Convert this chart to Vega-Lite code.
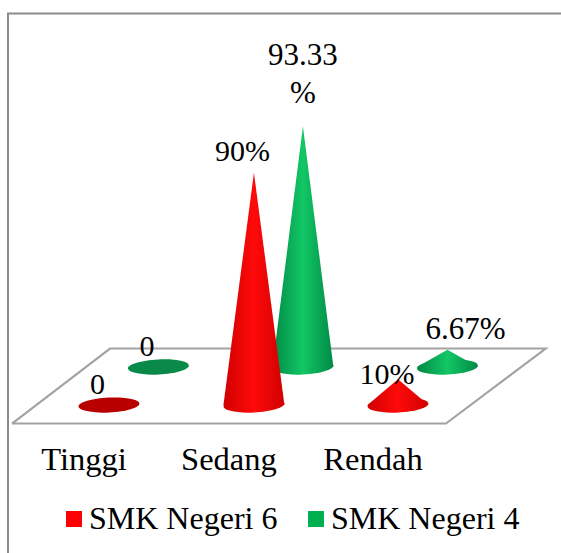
{"$schema":"https://vega.github.io/schema/vega-lite/v6.json","width":561,"height":553,"padding":0,"autosize":{"type":"fit","contains":"padding"},"background":"white","view":{"stroke":null},"config":{"text":{"font":"Liberation Serif"}},
"datasets":{
"bars":[
{"category":"Tinggi","series":"SMK Negeri 6","value":0,"label":"0","cx":0,"base":0,"top":0},
{"category":"Sedang","series":"SMK Negeri 6","value":90,"label":"90%","cx":1.003,"base":0,"top":90},
{"category":"Rendah","series":"SMK Negeri 6","value":10,"label":"10%","cx":2.0,"base":0,"top":10},
{"category":"Tinggi","series":"SMK Negeri 4","value":0,"label":"0","cx":0.342,"base":14.73,"top":14.73},
{"category":"Sedang","series":"SMK Negeri 4","value":93.33,"label":"93.33\n%","cx":1.342,"base":14.73,"top":108.06},
{"category":"Rendah","series":"SMK Negeri 4","value":6.67,"label":"6.67%","cx":2.342,"base":14.73,"top":21.4}],
"outline":[
{"category":"Sedang","series":"SMK Negeri 6","left":0.792,"right":1.214,"level":0},
{"category":"Sedang","series":"SMK Negeri 6","left":1.003,"right":1.003,"level":90},
{"category":"Rendah","series":"SMK Negeri 6","left":1.789,"right":2.211,"level":0},
{"category":"Rendah","series":"SMK Negeri 6","left":2.0,"right":2.0,"level":10},
{"category":"Sedang","series":"SMK Negeri 4","left":1.131,"right":1.553,"level":14.73},
{"category":"Sedang","series":"SMK Negeri 4","left":1.342,"right":1.342,"level":108.06},
{"category":"Rendah","series":"SMK Negeri 4","left":2.131,"right":2.553,"level":14.73},
{"category":"Rendah","series":"SMK Negeri 4","left":2.342,"right":2.342,"level":21.4}],
"floor":[{"i":0,"x":-0.671,"y":-7.17},{"i":1,"x":0.007,"y":21.9},{"i":2,"x":3.022,"y":21.9},{"i":3,"x":2.332,"y":-7.17},{"i":4,"x":-0.671,"y":-7.17}],
"frame":[{"i":0,"x":-0.699,"y":-57.36},{"i":1,"x":-0.699,"y":151.7},{"i":2,"x":3.128,"y":151.7}]
},
"layer":[
{"data":{"name":"frame"},"mark":{"type":"line","color":"#8c8c8c","strokeWidth":2,"clip":true},"encoding":{"x":{"field":"x","type":"quantitative","axis":null,"scale":{"domain":[-0.7543,3.128],"nice":false,"zero":false}},"y":{"field":"y","type":"quantitative","axis":null,"scale":{"domain":[-57.36,156.98],"nice":false,"zero":false}},"order":{"field":"i"}}},
{"data":{"name":"floor"},"mark":{"type":"line","color":"#a3a3a3","strokeWidth":2.2,"strokeJoin":"miter"},"encoding":{"x":{"field":"x","type":"quantitative","axis":null},"y":{"field":"y","type":"quantitative","axis":null},"order":{"field":"i"}}},
{"data":{"name":"bars"},"transform":[{"filter":"datum.value===0"}],"mark":{"type":"point","filled":true,"opacity":1,"size":3721,"angle":-3,"shape":"M-1,0A1,0.245,0,1,0,1,0A1,0.245,0,1,0,-1,0Z"},"encoding":{"x":{"field":"cx","type":"quantitative","axis":null},"y":{"field":"base","type":"quantitative","axis":null},"fill":{"field":"series","type":"nominal","legend":null,"scale":{"domain":["SMK Negeri 6","SMK Negeri 4"],"range":["#b90000","#0a8a48"]}}}},
{"data":{"name":"outline"},"transform":[{"filter":"datum.series==='SMK Negeri 4'"}],"mark":{"type":"area","color":{"gradient":"linear","x1":0,"x2":1,"y1":0,"y2":0,"stops":[{"offset":0,"color":"#008a45"},{"offset":0.5,"color":"#12c766"},{"offset":1,"color":"#008a45"}]}},"encoding":{"x":{"field":"left","type":"quantitative","axis":null},"x2":{"field":"right"},"y":{"field":"level","type":"quantitative","axis":null},"detail":{"field":"category"}}},
{"data":{"name":"bars"},"transform":[{"filter":"datum.value>0&&datum.series==='SMK Negeri 4'"}],"mark":{"type":"point","filled":true,"opacity":1,"size":3721,"angle":-3,"shape":"M-1,0A1,0.245,0,1,0,1,0A1,0.245,0,1,0,-1,0Z","color":{"gradient":"linear","x1":0,"x2":1,"y1":0,"y2":0,"stops":[{"offset":0,"color":"#008a45"},{"offset":0.5,"color":"#12c766"},{"offset":1,"color":"#008a45"}]}},"encoding":{"x":{"field":"cx","type":"quantitative","axis":null},"y":{"field":"base","type":"quantitative","axis":null}}},
{"data":{"name":"outline"},"transform":[{"filter":"datum.series==='SMK Negeri 6'"}],"mark":{"type":"area","color":{"gradient":"linear","x1":0,"x2":1,"y1":0,"y2":0,"stops":[{"offset":0,"color":"#d00000"},{"offset":0.5,"color":"#ff0a0a"},{"offset":1,"color":"#d00000"}]}},"encoding":{"x":{"field":"left","type":"quantitative","axis":null},"x2":{"field":"right"},"y":{"field":"level","type":"quantitative","axis":null},"detail":{"field":"category"}}},
{"data":{"name":"bars"},"transform":[{"filter":"datum.value>0&&datum.series==='SMK Negeri 6'"}],"mark":{"type":"point","filled":true,"opacity":1,"size":3721,"angle":-3,"shape":"M-1,0A1,0.245,0,1,0,1,0A1,0.245,0,1,0,-1,0Z","color":{"gradient":"linear","x1":0,"x2":1,"y1":0,"y2":0,"stops":[{"offset":0,"color":"#d00000"},{"offset":0.5,"color":"#ff0a0a"},{"offset":1,"color":"#d00000"}]}},"encoding":{"x":{"field":"cx","type":"quantitative","axis":null},"y":{"field":"base","type":"quantitative","axis":null}}},
{"data":{"name":"bars"},"transform":[{"filter":"datum.series==='SMK Negeri 6'"}],"mark":{"type":"text","font":"Liberation Serif","fontSize":32.5,"color":"black","baseline":"alphabetic","dx":-25,"dy":64.5},"encoding":{"x":{"field":"cx","type":"quantitative","axis":null},"y":{"field":"base","type":"quantitative","axis":null},"text":{"field":"category"}}},
{"data":{"name":"bars"},"transform":[{"filter":"datum.category==='Tinggi'||datum.label==='90%'"}],"mark":{"type":"text","font":"Liberation Serif","fontSize":30,"color":"black","baseline":"alphabetic","dx":-11.5,"dy":-11.5},"encoding":{"x":{"field":"cx","type":"quantitative","axis":null},"y":{"field":"top","type":"quantitative","axis":null},"text":{"field":"label"}}},
{"data":{"name":"bars"},"transform":[{"filter":"datum.label==='10%'"}],"mark":{"type":"text","font":"Liberation Serif","fontSize":30,"color":"black","baseline":"alphabetic","dx":-11,"dy":5},"encoding":{"x":{"field":"cx","type":"quantitative","axis":null},"y":{"field":"top","type":"quantitative","axis":null},"text":{"field":"label"}}},
{"data":{"name":"bars"},"transform":[{"filter":"datum.label==='6.67%'"}],"mark":{"type":"text","font":"Liberation Serif","fontSize":31,"color":"black","baseline":"alphabetic","dx":18,"dy":-11},"encoding":{"x":{"field":"cx","type":"quantitative","axis":null},"y":{"field":"top","type":"quantitative","axis":null},"text":{"field":"label"}}},
{"data":{"name":"bars"},"transform":[{"filter":"datum.value===93.33"}],"mark":{"type":"text","font":"Liberation Serif","fontSize":31,"color":"black","baseline":"alphabetic","lineBreak":"\n","lineHeight":38,"dy":-61},"encoding":{"x":{"field":"cx","type":"quantitative","axis":null},"y":{"field":"top","type":"quantitative","axis":null},"text":{"field":"label"}}},
{"data":{"name":"bars"},"mark":{"type":"point","filled":true,"size":0,"opacity":1},"encoding":{"x":{"field":"cx","type":"quantitative","axis":null},"y":{"field":"base","type":"quantitative","axis":null},"color":{"field":"series","type":"nominal","scale":{"domain":["SMK Negeri 6","SMK Negeri 4"],"range":["#ff0000","#00b050"]},"legend":{"orient":"none","legendX":58,"legendY":503,"direction":"horizontal","columns":2,"title":null,"padding":0,"symbolType":"square","symbolSize":256,"symbolStrokeWidth":0,"symbolOpacity":1,"labelFont":"Liberation Serif","labelFontSize":32,"labelColor":"black","labelOffset":-1,"columnPadding":22,"labelLimit":300}}}}
],
"resolve":{"scale":{"fill":"independent"}}
}
